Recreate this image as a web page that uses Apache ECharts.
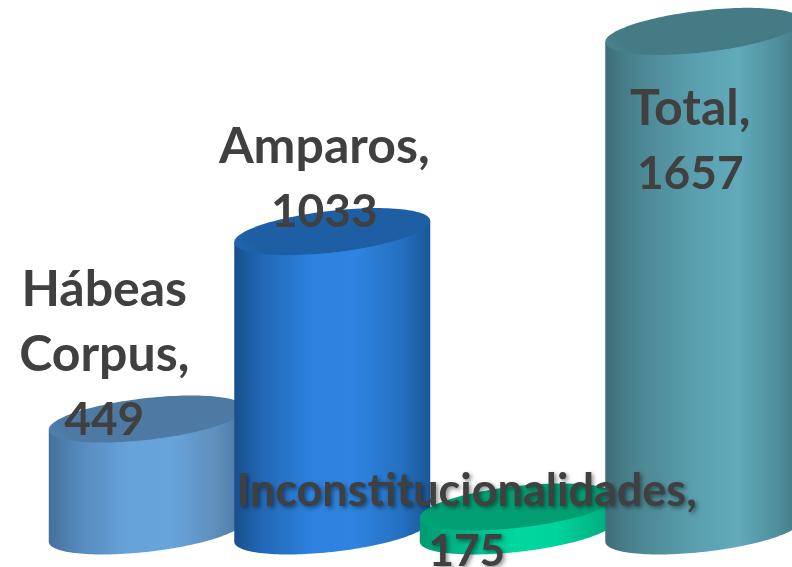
<!DOCTYPE html>
<html>
<head>
<meta charset="utf-8">
<style>html,body{margin:0;padding:0;background:#fff}#c{width:792px;height:567px}</style>
<script src="https://cdn.jsdelivr.net/npm/echarts@6/dist/echarts.min.js"></script>
</head>
<body>
<div id="c"></div>
<script>
const categories = ['Hábeas Corpus', 'Amparos', 'Inconstitucionalidades', 'Total'];
const values = [449, 1033, 175, 1657];

// Style tables: per-bar colours and label placement relative to the bar top
const bodyStops = [
  [[0,'#44709c'],[0.14,'#5488ba'],[0.4,'#66a2da'],[0.62,'#67a4dc'],[0.85,'#5e8fbc'],[1,'#4a779f']],
  [[0,'#184f8c'],[0.14,'#2168b6'],[0.4,'#2d82df'],[0.62,'#2e84e0'],[0.86,'#246fc0'],[1,'#1a5694']],
  [[0,'#019a70'],[0.2,'#00b587'],[0.5,'#00d8a0'],[0.7,'#00d39c'],[1,'#00a67c']],
  [[0,'#3f6e78'],[0.15,'#4a8490'],[0.45,'#5a9fae'],[0.68,'#60aaba'],[0.88,'#4f8e9b'],[1,'#437782']]
];
const topColors = [
  ['#4f84b2','#4d79a3'], ['#2067b4','#1e5ea4'], ['#00aa7a','#019f72'], ['#4c8691','#447b85']
];
const labelDx = [-42.5, -8, -51, -13];
const labelDy = [-64, -52, 15, 110];
const labelShadow = [0, 0, 1, 0];
const nameSize = [50, 50, 45, 50];
const valueSize = [46, 46, 44, 46];
const lineGap = [65, 65, 60, 65];

const TILT = -6.5 * Math.PI / 180;
const MINOR = 20.8;
const BAR_RATIO = 0.5315;

function ellipsePoint(cx, cy, a, b, t) {
  const c = Math.cos(TILT), s = Math.sin(TILT);
  return [cx + a * Math.cos(t) * c - b * Math.sin(t) * s,
          cy + a * Math.cos(t) * s + b * Math.sin(t) * c];
}
function arc(cx, cy, a, b, t0, t1, n) {
  const p = [];
  for (let i = 0; i <= n; i++) p.push(ellipsePoint(cx, cy, a, b, t0 + (t1 - t0) * i / n));
  return p;
}

function renderBar(params, api) {
  const i = params.dataIndex;
  const top = api.coord([i, api.value(1)]);
  const base = api.coord([i, 100]);
  const band = api.size([1, 0])[0];
  const cx = top[0];
  const a = band * BAR_RATIO;
  const tE = Math.atan2(-MINOR * Math.sin(TILT), a * Math.cos(TILT)); // right-most point
  const lower = arc(cx, base[1], a, MINOR, tE, tE + Math.PI, 80);      // right → bottom → left
  const left = ellipsePoint(cx, top[1], a, MINOR, tE + Math.PI);
  const right = ellipsePoint(cx, top[1], a, MINOR, tE);
  const body = lower.concat([left, right]);
  const topFill = new echarts.graphic.LinearGradient(0, 1, 0.2, 0, [
    {offset: 0, color: topColors[i][0]}, {offset: 0.35, color: topColors[i][1]}, {offset: 1, color: topColors[i][1]}
  ]);
  return {
    type: 'group',
    children: [
      {type: 'polygon', shape: {points: body},
       style: {fill: new echarts.graphic.LinearGradient(0, 0, 1, 0,
         bodyStops[i].map(s => ({offset: s[0], color: s[1]})))}},
      {type: 'polygon', shape: {points: arc(cx, top[1], a, MINOR, 0, Math.PI * 2, 140)},
       style: {fill: topFill}}
    ]
  };
}

function renderLabel(params, api) {
  const i = params.dataIndex;
  const top = api.coord([i, api.value(1)]);
  const nameLines = (categories[i] + ',').split(' ').map(s => '{n|' + s + '}');
  const text = nameLines.concat('{v|' + values[i] + '}').join('\n');
  const shadow = labelShadow[i] ? {textShadowColor: 'rgba(0,0,0,0.45)', textShadowBlur: 4, textShadowOffsetX: 2, textShadowOffsetY: 2} : {};
  const font = {fill: '#404040', fontFamily: 'Lato, "Open Sans", sans-serif', fontWeight: 'bold', lineHeight: lineGap[i], align: 'center'};
  return {
    type: 'text',
    x: top[0] + labelDx[i],
    y: top[1] + labelDy[i],
    style: {
      text: text,
      align: 'center',
      verticalAlign: 'middle',
      rich: {
        n: Object.assign({fontSize: nameSize[i]}, font, shadow),
        v: Object.assign({fontSize: valueSize[i]}, font, shadow)
      }
    }
  };
}

const rows = categories.map((c, i) => [i, values[i]]);
const chart = echarts.init(document.getElementById('c'), null, {renderer: 'canvas'});
chart.setOption({
  animation: false,
  backgroundColor: '#fff',
  grid: {left: 54, width: 742, top: 17.5, height: 513.5, outerBoundsMode: 'none'},
  xAxis: {type: 'category', data: categories, show: false},
  yAxis: {type: 'value', min: 100, max: 1700, show: false},
  series: [
    {type: 'custom', renderItem: renderBar, data: rows, encode: {x: 0, y: 1}, clip: false, z: 2},
    {type: 'custom', renderItem: renderLabel, data: rows, encode: {x: 0, y: 1}, clip: false, z: 3}
  ]
});
</script>
</body>
</html>
